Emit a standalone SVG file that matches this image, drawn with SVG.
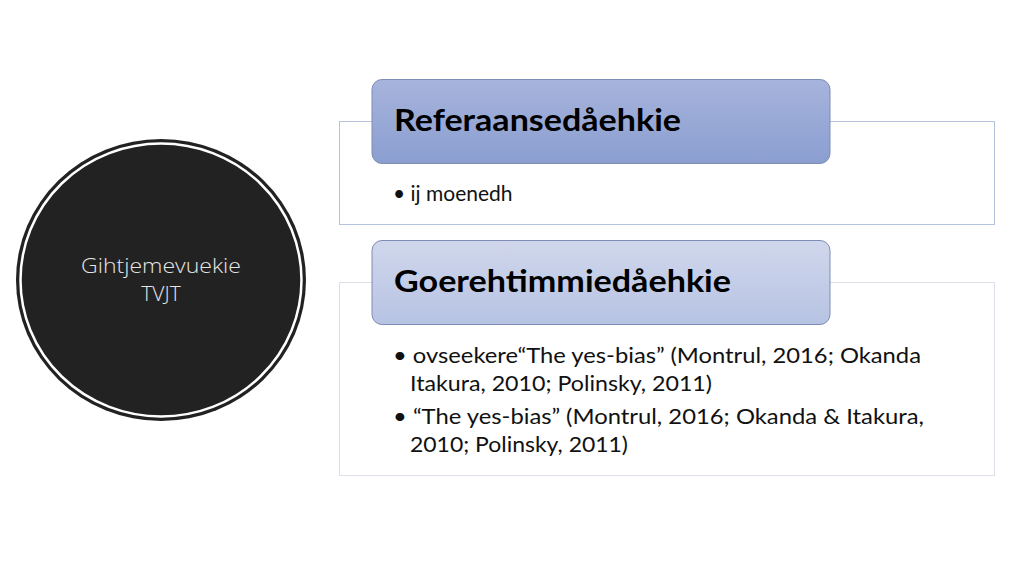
<svg xmlns="http://www.w3.org/2000/svg" width="1024" height="576" viewBox="0 0 1024 576">
<defs>
<linearGradient id="g1" x1="0" y1="0" x2="0" y2="1"><stop offset="0" stop-color="#a7b4dc"/><stop offset="1" stop-color="#8a9ed0"/></linearGradient>
<linearGradient id="g2" x1="0" y1="0" x2="0" y2="1"><stop offset="0" stop-color="#d0d7ec"/><stop offset="1" stop-color="#b7c3e3"/></linearGradient>
<style>
.box{fill:#fff;stroke-width:1}
.hdr{stroke:#7f8cb4;stroke-width:1}
.title{font-family:Lato,"Liberation Sans",sans-serif;font-weight:bold;font-size:30px;fill:#000}
.body{font-family:Lato,"Liberation Sans",sans-serif;font-size:21px;fill:#111}
.ctext{font-family:"Open Sans","Liberation Sans",sans-serif;font-weight:300;font-size:21px;fill:#e6e6e6;text-anchor:middle}
</style>
</defs>
<rect width="1024" height="576" fill="#fff"/>
<g id="center-node">
<ellipse cx="161" cy="280" rx="145" ry="141" fill="#222"/>
<ellipse cx="161" cy="280" rx="140.5" ry="136.5" fill="none" stroke="#fff" stroke-width="2.5"/>
<text class="ctext" x="161" y="273" textLength="160" lengthAdjust="spacingAndGlyphs">Gihtjemevuekie</text>
<text class="ctext" x="161" y="301">TVJT</text>
</g>
<g id="group1">
<rect class="box" x="339.5" y="121.5" width="655" height="103" stroke="#b4c3de"/>
<rect class="hdr" x="372" y="79.5" width="458" height="84" rx="10" fill="url(#g1)"/>
<text class="title" x="394" y="131" textLength="287" lengthAdjust="spacingAndGlyphs">Referaansedåehkie</text>
<text class="body" x="393" y="201">• ij moenedh</text>
</g>
<g id="group2">
<rect class="box" x="339.5" y="282.5" width="655" height="193" stroke="#dcdfe8"/>
<rect class="hdr" x="372" y="240.5" width="458" height="84" rx="10" fill="url(#g2)"/>
<text class="title" x="394" y="292" textLength="337" lengthAdjust="spacingAndGlyphs">Goerehtimmiedåehkie</text>
<text class="body" x="393" y="363" textLength="528" lengthAdjust="spacingAndGlyphs">• ovseekere“The yes-bias” (Montrul, 2016; Okanda</text>
<text class="body" x="410" y="391" textLength="302" lengthAdjust="spacingAndGlyphs">Itakura, 2010; Polinsky, 2011)</text>
<text class="body" x="393" y="424" textLength="531" lengthAdjust="spacingAndGlyphs">• “The yes-bias” (Montrul, 2016; Okanda &amp; Itakura,</text>
<text class="body" x="410" y="452" textLength="218" lengthAdjust="spacingAndGlyphs">2010; Polinsky, 2011)</text>
</g>
<g id="connectors"></g>
</svg>
